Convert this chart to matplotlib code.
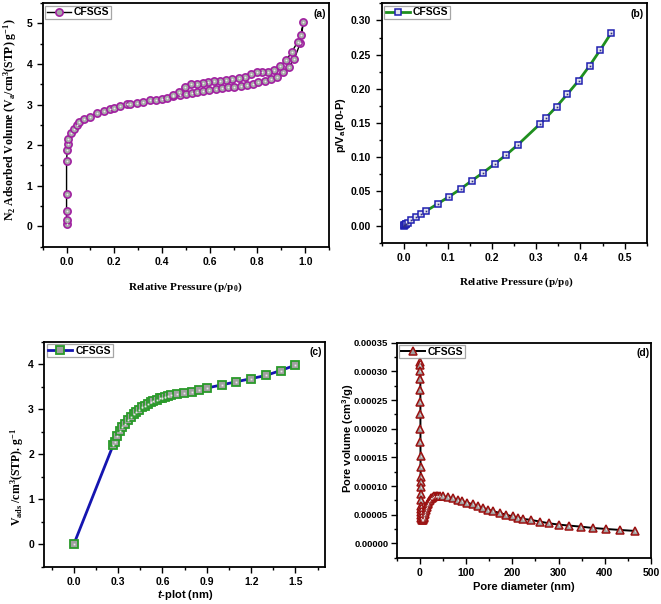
import matplotlib
matplotlib.use("Agg")
import matplotlib.pyplot as plt
from matplotlib.ticker import MultipleLocator, FormatStrFormatter

plt.rcParams['font.family'] = ['Liberation Sans', 'DejaVu Sans']
plt.rcParams['font.weight'] = 'bold'
plt.rcParams['mathtext.fontset'] = 'custom'
plt.rcParams['mathtext.it'] = 'Liberation Sans:italic:bold'
plt.rcParams['mathtext.default'] = 'regular'

# ---------------- data ----------------
# (a) N2 isotherm: adsorption then desorption
p_ads = [0.0, 0.0, 0.0, 0.0, 0.0, 0.003, 0.004, 0.008, 0.018, 0.03, 0.042, 0.053,
         0.072, 0.098, 0.126, 0.156, 0.182, 0.2, 0.224, 0.252, 0.268, 0.296, 0.321,
         0.35, 0.375, 0.398, 0.419, 0.447, 0.475, 0.5, 0.524, 0.548, 0.573, 0.598,
         0.625, 0.65, 0.675, 0.703, 0.73, 0.755, 0.78, 0.804, 0.832, 0.856, 0.881,
         0.906, 0.931, 0.955, 0.98, 0.993]
v_ads = [0.06, 0.15, 0.39, 0.80, 1.62, 1.88, 2.02, 2.15, 2.29, 2.39, 2.50, 2.56,
         2.64, 2.70, 2.78, 2.84, 2.88, 2.92, 2.97, 3.01, 3.02, 3.05, 3.07,
         3.10, 3.11, 3.13, 3.16, 3.20, 3.24, 3.25, 3.29, 3.32, 3.34, 3.36,
         3.38, 3.40, 3.42, 3.44, 3.46, 3.49, 3.51, 3.55, 3.59, 3.63, 3.68,
         3.81, 3.92, 4.13, 4.52, 5.04]
p_des = [0.982, 0.969, 0.945, 0.92, 0.895, 0.871, 0.846, 0.821, 0.797, 0.772, 0.748,
         0.721, 0.695, 0.668, 0.643, 0.62, 0.594, 0.57, 0.545, 0.522, 0.497, 0.471, 0.447]
v_des = [4.71, 4.55, 4.30, 4.09, 3.95, 3.86, 3.80, 3.79, 3.80, 3.74, 3.69,
         3.66, 3.63, 3.61, 3.59, 3.57, 3.55, 3.53, 3.51, 3.50, 3.43, 3.32, 3.23]

# (b) BET plot
p_bet = [0.0, 0.001, 0.002, 0.004, 0.006, 0.009, 0.017, 0.028, 0.039, 0.051, 0.077,
         0.103, 0.129, 0.154, 0.18, 0.206, 0.232, 0.258, 0.309, 0.321, 0.346, 0.37,
         0.396, 0.421, 0.445, 0.47]
y_bet = [0.0, 0.0005, 0.001, 0.002, 0.003, 0.0045, 0.008, 0.0122, 0.0176, 0.0215, 0.032,
         0.0425, 0.0537, 0.0657, 0.0776, 0.0903, 0.1035, 0.118, 0.149, 0.157, 0.174, 0.192,
         0.212, 0.234, 0.257, 0.282]

# (c) t-plot
t_nm = [0.0, 0.267, 0.279, 0.295, 0.313, 0.329, 0.347, 0.365, 0.386, 0.404, 0.422,
        0.443, 0.461, 0.484, 0.502, 0.521, 0.539, 0.56, 0.58, 0.598, 0.616, 0.637,
        0.66, 0.697, 0.747, 0.8, 0.85, 0.9, 1.0, 1.1, 1.2, 1.3, 1.4, 1.5]
v_t = [0.0, 2.21, 2.28, 2.40, 2.51, 2.60, 2.68, 2.76, 2.83, 2.89, 2.94,
       2.99, 3.04, 3.08, 3.12, 3.16, 3.19, 3.21, 3.24, 3.26, 3.28, 3.30,
       3.32, 3.33, 3.36, 3.39, 3.42, 3.47, 3.54, 3.61, 3.68, 3.75, 3.86, 3.98]

# (d) pore size distribution
d_nm = [1.0, 1.05, 1.1, 1.15, 1.2, 1.25, 1.3, 1.35, 1.4, 1.5, 1.6, 1.7, 1.8, 1.9,
        2.0, 2.1, 2.2, 2.4, 2.7, 3.0, 3.5, 4.0, 5.0, 6.0, 7.0, 8.0, 9.0, 10.0, 11.0,
        12.0, 13.0, 14.0, 15.0, 16.0, 17.0, 18.0, 20.0, 22.0, 24.0, 26.0, 28.0, 31.0,
        34.0, 37.0, 40.0, 44.0, 50.0, 61.0, 72.0, 83.0, 92.0, 103.0, 114.0, 125.0,
        136.0, 147.0, 159.0, 173.0, 186.0, 201.0, 212.0, 224.0, 240.0, 260.0, 279.0,
        301.0, 323.0, 348.0, 374.0, 403.0, 433.0, 465.0]
pv = [3.17e-4, 3.11e-4, 3.00e-4, 2.86e-4, 2.68e-4, 2.47e-4, 2.25e-4, 2.00e-4, 1.77e-4,
      1.53e-4, 1.33e-4, 1.16e-4, 1.07e-4, 9.8e-5, 8.6e-5, 7.5e-5, 6.6e-5, 6.0e-5,
      5.4e-5, 4.9e-5, 4.5e-5, 4.25e-5, 4.1e-5, 4.1e-5, 4.2e-5, 4.4e-5, 4.6e-5, 4.9e-5,
      5.2e-5, 5.5e-5, 5.8e-5, 6.1e-5, 6.4e-5, 6.65e-5, 6.9e-5, 7.1e-5, 7.4e-5, 7.65e-5,
      7.85e-5, 8.0e-5, 8.1e-5, 8.2e-5, 8.27e-5, 8.3e-5, 8.3e-5, 8.27e-5, 8.2e-5,
      8.05e-5, 7.85e-5, 7.6e-5, 7.35e-5, 7.1e-5, 6.8e-5, 6.5e-5, 6.2e-5, 5.9e-5,
      5.6e-5, 5.3e-5, 5.0e-5, 4.7e-5, 4.5e-5, 4.27e-5, 4.09e-5, 3.8e-5, 3.5e-5,
      3.27e-5, 3.1e-5, 2.92e-5, 2.69e-5, 2.51e-5, 2.34e-5, 2.17e-5]

legend_label = "CFSGS"

# ---------------- figure ----------------
W, H = 661, 604
fig = plt.figure(figsize=(W / 100, H / 100), dpi=100)

def ax_px(l, r, t, b):
    return fig.add_axes([l / W, 1 - b / H, (r - l) / W, (b - t) / H])

TICK = 7.5
LAB = 8
serif = ['Liberation Serif', 'DejaVu Serif']
sans = ['Liberation Sans', 'DejaVu Sans']

def style(ax, ysize=TICK):
    for s in ax.spines.values():
        s.set_linewidth(1.3)
    ax.tick_params(which='both', direction='out', top=False, right=False,
                   labelsize=TICK, width=1.0)
    ax.tick_params(axis='y', labelsize=ysize)
    ax.tick_params(which='major', length=4)
    ax.tick_params(which='minor', length=2.5)
    for lab in ax.get_xticklabels() + ax.get_yticklabels():
        lab.set_fontweight('bold')

def legend(ax):
    lg = ax.legend(loc='upper left', frameon=True, fancybox=False, borderpad=0.15,
                   handlelength=2.3, handletextpad=0.3, borderaxespad=0.25,
                   prop={'size': 7.5, 'weight': 'bold'})
    lg.get_frame().set_edgecolor('#909090')
    lg.get_frame().set_linewidth(0.9)

def labels(ax, xl, yl, xc, yc, xfam, yfam, xs=LAB, ys=LAB):
    ax.set_xlabel(xl, fontsize=xs, fontweight='bold', family=xfam)
    ax.set_ylabel(yl, fontsize=ys, fontweight='bold', family=yfam)
    ax.xaxis.set_label_coords(*xc)
    ax.yaxis.set_label_coords(*yc)
    ax.xaxis.label.set_verticalalignment('center')
    ax.yaxis.label.set_verticalalignment('center')

# (a)
ax = ax_px(42.7, 329, 3, 246.7)
pa = p_ads + p_des
va = v_ads + v_des
ax.plot(pa, va, '-', color='black', lw=1.0, marker='o', ms=5.2,
        mfc='#a8a8a8', mec='#a020a0', mew=1.2, label=legend_label)
ax.plot(pa, va, ls='none', marker='o', ms=1.3, mfc='#f0f0f0', mec='none')
ax.set_xlim(-0.1, 1.1)
ax.set_ylim(-0.5, 5.5)
ax.xaxis.set_major_locator(MultipleLocator(0.2))
ax.xaxis.set_minor_locator(MultipleLocator(0.1))
ax.yaxis.set_major_locator(MultipleLocator(1))
ax.yaxis.set_minor_locator(MultipleLocator(0.5))
ax.xaxis.set_major_formatter(FormatStrFormatter('%.1f'))
ax.yaxis.set_major_formatter(FormatStrFormatter('%d'))
style(ax)
legend(ax)
ax.text(0.99, 0.955, '(a)', transform=ax.transAxes, ha='right', va='center',
        fontsize=7.5, fontweight='bold')
labels(ax, 'Relative Pressure (p/p$_0$)',
       'N$_2$ Adsorbed Volume (V$_a$/cm$^3$(STP) g$^{-1}$)',
       (0.497, -0.165), (-0.114, 0.52), serif, serif, LAB, 8.5)

# (b)
ax = ax_px(381.7, 646.7, 3.3, 242.7)
ax.plot(p_bet, y_bet, '-', color='#1f8f1f', lw=2.0, marker='s', ms=5,
        mfc='#e4e4ee', mec='#2020b0', mew=1.1, label=legend_label)
ax.plot(p_bet, y_bet, ls='none', marker='s', ms=1.2, mfc='#303080', mec='none')
ax.set_xlim(-0.05, 0.55)
ax.set_ylim(-0.025, 0.325)
ax.xaxis.set_major_locator(MultipleLocator(0.1))
ax.xaxis.set_minor_locator(MultipleLocator(0.05))
ax.yaxis.set_major_locator(MultipleLocator(0.05))
ax.yaxis.set_minor_locator(MultipleLocator(0.025))
ax.xaxis.set_major_formatter(FormatStrFormatter('%.1f'))
ax.yaxis.set_major_formatter(FormatStrFormatter('%.2f'))
style(ax)
legend(ax)
ax.text(0.99, 0.955, '(b)', transform=ax.transAxes, ha='right', va='center',
        fontsize=7.5, fontweight='bold')
labels(ax, 'Relative Pressure (p/p$_0$)', 'p/V$_a$(P0-P)',
       (0.509, -0.167), (-0.154, 0.489), serif, sans)

# (c)
ax = ax_px(44.3, 325, 341.7, 566.7)
ax.plot(t_nm, v_t, '-', color='#1515b0', lw=2.0, marker='s', ms=5.5,
        mfc='#a0a0a0', mec='#2a9a2a', mew=1.3, label=legend_label)
ax.plot(t_nm, v_t, ls='none', marker='s', ms=1.3, mfc='#e8e8e8', mec='none')
ax.set_xlim(-0.2, 1.7)
ax.set_ylim(-0.5, 4.5)
ax.xaxis.set_major_locator(MultipleLocator(0.3))
ax.xaxis.set_minor_locator(MultipleLocator(0.15))
ax.yaxis.set_major_locator(MultipleLocator(1))
ax.yaxis.set_minor_locator(MultipleLocator(0.5))
ax.xaxis.set_major_formatter(FormatStrFormatter('%.1f'))
ax.yaxis.set_major_formatter(FormatStrFormatter('%d'))
style(ax)
legend(ax)
ax.text(0.988, 0.955, '(c)', transform=ax.transAxes, ha='right', va='center',
        fontsize=7.5, fontweight='bold')
labels(ax, '$\\mathit{t}$-plot (nm)', 'V$_{ads}$ /cm$^3$(STP). g$^{-1}$',
       (0.501, -0.126), (-0.097, 0.40), sans, serif, LAB, 8.5)

# (d)
ax = ax_px(396.7, 651, 342.7, 557.7)
ax.plot(d_nm, pv, '-', color='black', lw=1.4, marker='^', ms=5.5,
        mfc='#a0a0a0', mec='#9b1010', mew=1.1, label=legend_label)
ax.plot(d_nm, pv, ls='none', marker='^', ms=1.3, mfc='#e8e8e8', mec='none')
ax.set_xlim(-50, 500)
ax.set_ylim(-0.000025, 0.00035)
ax.xaxis.set_major_locator(MultipleLocator(100))
ax.xaxis.set_minor_locator(MultipleLocator(50))
ax.yaxis.set_major_locator(MultipleLocator(0.00005))
ax.yaxis.set_minor_locator(MultipleLocator(0.000025))
ax.xaxis.set_major_formatter(FormatStrFormatter('%d'))
ax.yaxis.set_major_formatter(FormatStrFormatter('%.5f'))
style(ax, ysize=6.8)
ax.tick_params(axis='y', pad=2)
legend(ax)
ax.text(0.995, 0.95, '(d)', transform=ax.transAxes, ha='right', va='center',
        fontsize=7.5, fontweight='bold')
labels(ax, 'Pore diameter (nm)', 'Pore volume (cm$^3$/g)',
       (0.50, -0.135), (-0.19, 0.555), sans, sans)

fig.savefig('out.png', dpi=100)
